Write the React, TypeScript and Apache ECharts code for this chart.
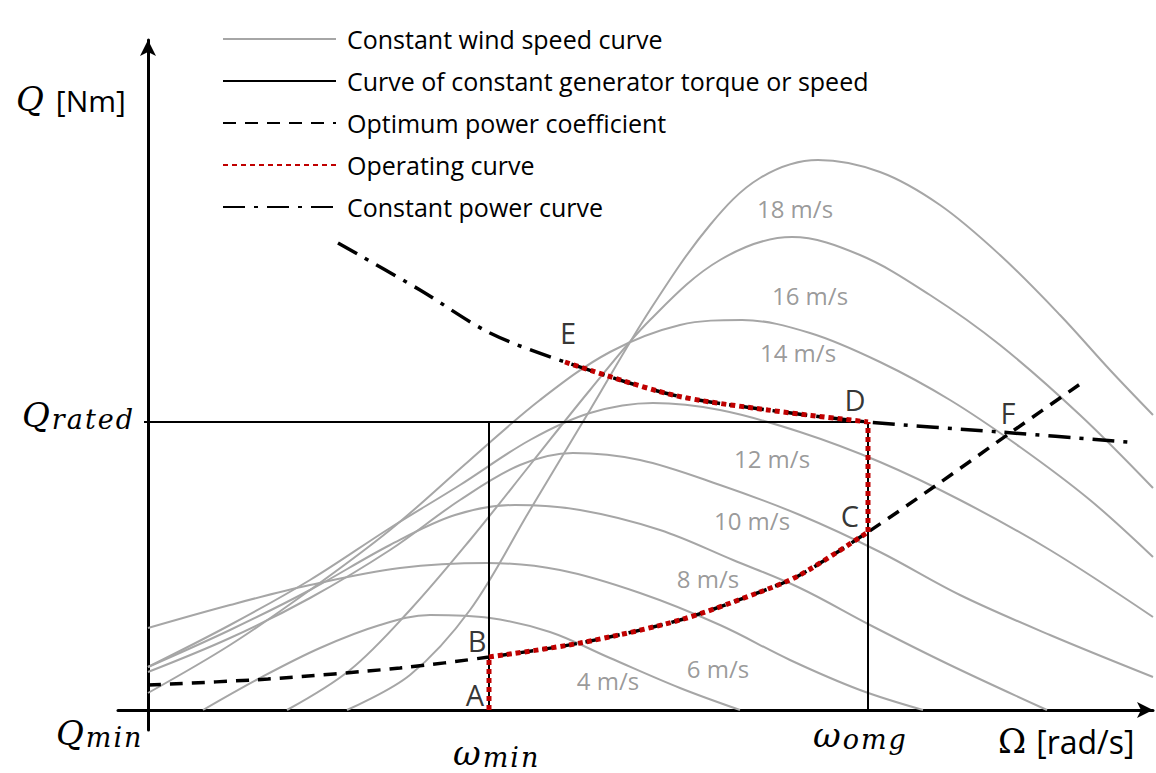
import React, { useEffect, useRef } from "react";
import * as echarts from "echarts";

// ---- data (schematic units; x = rotor speed, y = torque) ----
const windSpeeds = ["4 m/s", "6 m/s", "8 m/s", "10 m/s", "12 m/s", "14 m/s", "16 m/s", "18 m/s"];
const wind4 = [[55,0],[112,32],[172,62],[232,85],[282,95],[342,92],[402,78],[462,52],[532,22],[592,0]];
const wind6 = [[0,82],[82,105],[162,125],[252,142],[339,147],[412,140],[492,117],[572,85],[642,50],[712,20],[775,0]];
const wind8 = [[0,43],[82,80],[162,120],[242,165],[307,195],[367,205],[432,200],[512,180],[585,150],[652,122],[722,85],[802,45],[899,0]];
const wind10 = [[0,38],[82,72],[162,112],[242,160],[312,210],[372,245],[425,257],[492,250],[572,225],[652,195],[732,158],[812,115],[902,75],[1005,33]];
const wind12 = [[0,43],[82,85],[162,130],[242,182],[312,225],[382,270],[442,297],[505,307],[572,300],[652,278],[732,248],[812,210],[902,160],[1005,93]];
const wind14 = [[0,17],[82,65],[162,120],[242,180],[322,250],[392,310],[462,358],[532,385],[594,390],[662,377],[732,348],[802,310],[872,263],[942,210],[1005,153]];
const wind16 = [[139,0],[202,40],[262,100],[322,170],[382,245],[442,320],[502,390],[572,450],[644,473],[712,455],[782,415],[852,365],[932,295],[1005,222]];
const wind18 = [[199,0],[262,35],[322,100],[382,200],[442,300],[502,400],[562,485],[612,532],[670,550],[732,538],[792,505],[852,455],[912,395],[962,340],[1005,295]];
const windCurves = [wind4, wind6, wind8, wind10, wind12, wind14, wind16, wind18];
const windLabelPos = [[460,30],[570,42],[560,132],[604,190],[624,252],[650,358],[662,415],[647,502]];

const omegaMin = 341;
const omegaOmg = 720;
const qRated = 288;

const optimumCurve = [[0,25],[120,31],[252,42],[341,53],[432,67],[532,90],[612,118],[652,135],[720,178],[790,226],[862,277],[935,328]];
const powerCurve = [[190,467],[272,420],[342,377],[417,348],[525,315],[620,300],[720,288],[852,278],[980,268]];

const pointNames = ["A", "B", "C", "D", "E", "F"];
const pointLabelPos = [[327,16],[329,70],[702,195],[707,311],[420,378],[860,298]];

const legendNames = [
  "Constant wind speed curve",
  "Curve of constant generator torque or speed",
  "Optimum power coefficient",
  "Operating curve",
  "Constant power curve",
];

const SANS = "'Open Sans', 'Noto Sans', sans-serif";
const SERIF = "'DejaVu Serif', 'Liberation Serif', serif";

export default function App() {
  const ref = useRef<HTMLDivElement>(null);
  useEffect(() => {
    if (!ref.current) return;
    const chart = echarts.init(ref.current, null, { renderer: "svg" });

    const grayStyle = { color: "#a6a6a6", width: 2 };
    const series: any[] = [];
    windCurves.forEach((c) => {
      series.push({
        name: legendNames[0], type: "line", data: c, smooth: 0.35,
        symbol: "none", lineStyle: grayStyle, itemStyle: { color: "#a6a6a6" }, z: 1,
      });
    });
    const blackSolid = (d: number[][]) => ({
      name: legendNames[1], type: "line", data: d, symbol: "none",
      lineStyle: { color: "#000", width: 2 }, itemStyle: { color: "#000" }, z: 2,
    });
    series.push(blackSolid([[-4, qRated], [omegaOmg, qRated]]));
    series.push(blackSolid([[omegaMin, 0], [omegaMin, qRated]]));
    series.push(blackSolid([[omegaOmg, 0], [omegaOmg, qRated]]));
    series.push({
      name: legendNames[2], type: "line", data: optimumCurve, smooth: 0.3, symbol: "none",
      lineStyle: { color: "#000", width: 3.5, type: [13, 9] }, itemStyle: { color: "#000" }, z: 3,
    });
    series.push({
      name: legendNames[4], type: "line", data: powerCurve, smooth: 0.3, symbol: "none",
      lineStyle: { color: "#000", width: 3.5, type: [22, 9, 4, 9] }, itemStyle: { color: "#000" }, z: 3,
    });
    const red = { color: "#c00000", width: 5, type: [5, 4] };
    const bIdx = optimumCurve.findIndex((p) => p[0] === omegaMin);
    const cIdx = optimumCurve.findIndex((p) => p[0] === omegaOmg);
    const dIdx = powerCurve.findIndex((p) => p[0] === omegaOmg);
    const eIdx = powerCurve.findIndex((p) => p[0] === 417);
    const redSeries = (d: number[][], smooth: number) => ({
      name: legendNames[3], type: "line", data: d, smooth, symbol: "none",
      lineStyle: red, itemStyle: { color: "#c00000" }, z: 5,
    });
    series.push(redSeries([[omegaMin, 0], optimumCurve[bIdx]], 0));
    series.push(redSeries(optimumCurve.slice(bIdx, cIdx + 1), 0.3));
    series.push(redSeries([optimumCurve[cIdx], powerCurve[dIdx]], 0));
    series.push(redSeries(powerCurve.slice(eIdx, dIdx + 1), 0.3));

    series.push({
      name: "windLabels", type: "scatter", symbol: "circle", symbolSize: 1,
      itemStyle: { color: "rgba(0,0,0,0)" }, z: 6, silent: true,
      data: windSpeeds.map((n, i) => ({ name: n, value: windLabelPos[i] })),
      label: { show: true, position: "inside", formatter: "{b}", color: "#808080", fontSize: 24, fontFamily: SANS },
    });
    series.push({
      name: "pointLabels", type: "scatter", symbol: "circle", symbolSize: 1,
      itemStyle: { color: "rgba(0,0,0,0)" }, z: 6, silent: true,
      data: pointNames.map((n, i) => ({ name: n, value: pointLabelPos[i] })),
      label: { show: true, position: "inside", formatter: "{b}", color: "#000", fontSize: 29, fontFamily: SANS },
    });

    // math-style labels: italic main symbol + spaced italic subscript
    const math = (x: number, y: number, main: string, sub: string, extra = "") => {
      const subTokens = sub.split("").map((ch) => `{s|${ch}}`).join("");
      return {
        type: "text", x, y,
        style: {
          text: `{m|${main}}${subTokens}${extra ? `{e|${extra}}` : ""}`,
          rich: {
            m: { fontFamily: SERIF, fontStyle: "italic", fontSize: 34, padding: [0, 2, 8, 0], fill: "#000" },
            s: { fontFamily: SERIF, fontStyle: "italic", fontSize: 27, padding: [0, 2, 0, 0], fill: "#000" },
            e: { fontFamily: SANS, fontSize: 30, padding: [0, 0, 6, 10], fill: "#000" },
          },
        },
      };
    };

    const option: any = {
      animation: false,
      backgroundColor: "#fff",
      grid: { left: 118, right: 3, top: 40, bottom: 43 },
      xAxis: {
        type: "value", min: -30, max: 1005,
        axisLine: { show: true, onZero: true, symbol: ["none", "arrow"], symbolSize: [12, 16], lineStyle: { color: "#000", width: 3 } },
        axisTick: { show: false }, axisLabel: { show: false }, splitLine: { show: false },
      },
      yAxis: {
        type: "value", min: -20, max: 670,
        axisLine: { show: true, onZero: true, symbol: ["none", "arrow"], symbolSize: [12, 16], lineStyle: { color: "#000", width: 3 } },
        axisTick: { show: false }, axisLabel: { show: false }, splitLine: { show: false },
      },
      legend: {
        data: legendNames, orient: "vertical", left: 222, top: 25, padding: 0,
        itemWidth: 113, itemHeight: 14, itemGap: 14, selectedMode: false,
        itemStyle: { opacity: 0 },
        textStyle: { fontFamily: SANS, fontSize: 25, color: "#000", lineHeight: 28, padding: [0, 0, 0, 6] },
      },
      graphic: [
        math(16, 82, "Q", "", "[Nm]"),
        math(22, 398, "Q", "rated"),
        math(56, 716, "Q", "min"),
        math(453, 736, "ω", "min"),
        math(813, 718, "ω", "omg"),
        {
          type: "text", x: 998, y: 724,
          style: {
            text: "{m|Ω}{e|[rad/s]}",
            rich: {
              m: { fontFamily: SERIF, fontSize: 34, padding: [0, 0, 4, 0], fill: "#000" },
              e: { fontFamily: SANS, fontSize: 32, padding: [0, 0, 4, 10], fill: "#000" },
            },
          },
        },
      ],
      series,
    };
    chart.setOption(option);
    return () => chart.dispose();
  }, []);
  return (
    <div
      ref={ref}
      style={{ position: "fixed", left: 0, top: 0, width: 1156, height: 773, background: "#fff" }}
    />
  );
}
